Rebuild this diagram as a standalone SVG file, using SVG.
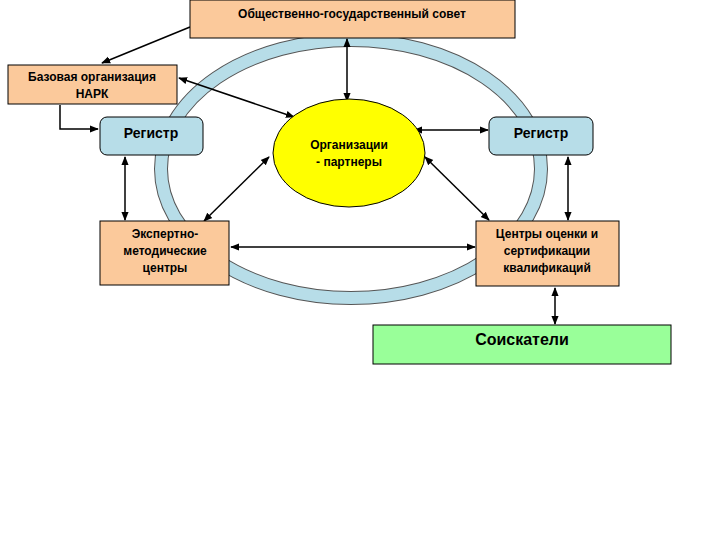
<svg xmlns="http://www.w3.org/2000/svg" width="720" height="540" viewBox="0 0 720 540">
<style>
text{font-family:"Liberation Sans",Arial,sans-serif;font-weight:bold;fill:#000;text-anchor:middle}
.b{stroke:#000;stroke-width:1}
.o{fill:#fbc99b}
.r{fill:#b7dde8}
.c line,.c path{stroke:#000;stroke-width:1.5;fill:none}
</style>
<defs>
<marker id="a" viewBox="0 0 10 10" refX="9" refY="5" markerWidth="6" markerHeight="6" orient="auto-start-reverse"><path d="M0,1 L10,5 L0,9z" fill="#000"/></marker>
</defs>
<rect width="720" height="540" fill="#fff"/>
<g id="ring">
<ellipse cx="351" cy="169" rx="190" ry="129" fill="none" stroke="#555" stroke-width="14"/>
<ellipse cx="351" cy="169" rx="190" ry="129" fill="none" stroke="#b7dde8" stroke-width="12"/>
</g>
<g class="c">
<line x1="190" y1="27" x2="102" y2="63" marker-end="url(#a)"/>
<line x1="179" y1="78" x2="294" y2="117" marker-start="url(#a)" marker-end="url(#a)"/>
<path d="M60,105 V129 H98" marker-end="url(#a)"/>
<line x1="347" y1="39" x2="347" y2="101" marker-start="url(#a)" marker-end="url(#a)"/>
<line x1="125" y1="157" x2="125" y2="220" marker-start="url(#a)" marker-end="url(#a)"/>
<line x1="269" y1="157" x2="204" y2="221" marker-start="url(#a)" marker-end="url(#a)"/>
<line x1="414" y1="130" x2="488" y2="130" marker-start="url(#a)" marker-end="url(#a)"/>
<line x1="425" y1="157" x2="489" y2="220" marker-start="url(#a)" marker-end="url(#a)"/>
<line x1="568" y1="157" x2="568" y2="220" marker-start="url(#a)" marker-end="url(#a)"/>
<line x1="231" y1="247" x2="475" y2="247" marker-start="url(#a)" marker-end="url(#a)"/>
<line x1="555" y1="288" x2="555" y2="324" marker-start="url(#a)" marker-end="url(#a)"/>
</g>
<g id="council"><rect class="b o" x="190" y="0" width="325" height="38"/><text x="352" y="18" font-size="12">Общественно-государственный совет</text></g>
<g id="base"><rect class="b o" x="8" y="65" width="169" height="39"/><text x="92" y="81" font-size="12">Базовая организация</text><text x="92" y="98" font-size="12">НАРК</text></g>
<g id="reg1"><rect class="b r" x="100" y="117" width="103" height="38" rx="7"/><text x="151" y="138" font-size="14">Регистр</text></g>
<g id="org"><ellipse class="b" cx="349" cy="153" rx="76" ry="54" fill="#ffff00"/><text x="349" y="149" font-size="12">Организации</text><text x="349" y="166" font-size="12">- партнеры</text></g>
<g id="reg2"><rect class="b r" x="489" y="117" width="104" height="38" rx="7"/><text x="541" y="138" font-size="14">Регистр</text></g>
<g id="expert"><rect class="b o" x="100" y="221" width="129" height="64"/><text x="165" y="238" font-size="12">Экспертно-</text><text x="165" y="255" font-size="12">методические</text><text x="165" y="272" font-size="12">центры</text></g>
<g id="centers"><rect class="b o" x="476" y="221" width="143" height="65"/><text x="547" y="238" font-size="12">Центры оценки и</text><text x="547" y="255" font-size="12">сертификации</text><text x="547" y="272" font-size="12">квалификаций</text></g>
<g id="seekers"><rect class="b" x="373" y="325" width="298" height="39" fill="#99ff99"/><text x="522" y="345" font-size="16">Соискатели</text></g>
</svg>
